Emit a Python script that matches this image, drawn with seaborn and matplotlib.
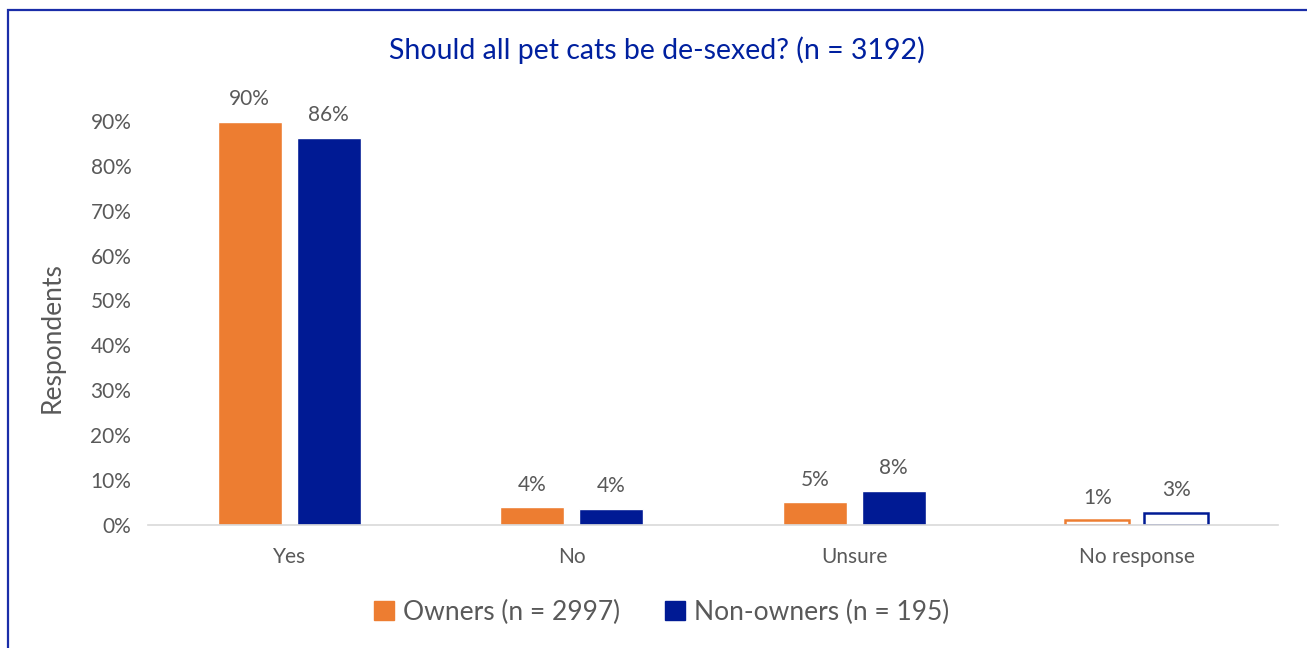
import pandas as pd
import matplotlib.pyplot as plt
import seaborn as sns
from matplotlib.patches import Rectangle

# Datos
categorias = ['Yes', 'No', 'Unsure', 'No response']
grupos = ['Owners (n = 2997)', 'Non-owners (n = 195)']
owners = [89.8, 3.9, 5.1, 1.1]
non_owners = [86.2, 3.6, 7.6, 2.7]
ticks_y = [0, 10, 20, 30, 40, 50, 60, 70, 80, 90]

naranja = '#ED7D31'
azul = '#001A94'
gris = '#595959'

df = pd.DataFrame({
    'Respuesta': categorias * 2,
    'Grupo': [grupos[0]] * len(categorias) + [grupos[1]] * len(categorias),
    'Porcentaje': owners + non_owners,
})

sns.set_style('white')
plt.rcParams['font.family'] = ['Lato', 'DejaVu Sans']

fig = plt.figure(figsize=(13.07, 6.48), dpi=100)
ax = fig.add_axes([148 / 1307, 123 / 648, 1130 / 1307, 449 / 648])

sns.barplot(data=df, x='Respuesta', y='Porcentaje', hue='Grupo',
            palette=[naranja, azul], width=0.56, gap=0.19, saturation=1,
            errorbar=None, ax=ax, legend=False)

# "No response" con barras huecas
for cont, color in zip(ax.containers, [naranja, azul]):
    barra = cont.patches[-1]
    barra.set_facecolor('white')
    barra.set_edgecolor(color)
    barra.set_linewidth(1.8)
    ax.bar_label(cont, labels=[f'{v:.0f}%' for v in cont.datavalues],
                 padding=9, fontsize=15, color=gris)

ax.set_ylim(0, 100)
ax.set_yticks(ticks_y)
ax.set_yticklabels([f'{t}%' for t in ticks_y])
ax.set_xlim(-0.5, 3.5)
ax.tick_params(axis='both', labelsize=15, colors=gris, length=0)
ax.tick_params(axis='x', pad=16)
ax.tick_params(axis='y', pad=12)
ax.set_xlabel('')
ax.set_ylabel('')
sns.despine(ax=ax, left=True)
ax.spines['bottom'].set_color('#D9D9D9')
ax.spines['bottom'].set_linewidth(1.2)

fig.text(52 / 1307, 1 - 338 / 648, 'Respondents', rotation=90,
         ha='center', va='center', fontsize=19, color=gris)
fig.text(657 / 1307, 1 - 50 / 648, 'Should all pet cats be de-sexed? (n = 3192)',
         ha='center', va='center', fontsize=20.5, color='#00209F')

handles = [Rectangle((0, 0), 1, 1, color=naranja), Rectangle((0, 0), 1, 1, color=azul)]
fig.legend(handles, grupos, loc='center', bbox_to_anchor=(662 / 1307, 1 - 612 / 648),
           ncol=2, frameon=False, fontsize=19, handlelength=0.75, handleheight=0.75,
           handletextpad=0.35, columnspacing=1.7, labelcolor=gris)

# Marco azul de la figura
fig.patches.append(Rectangle((7.5 / 1307, -0.1), 1.2, 1.1 - 10.5 / 648,
                             transform=fig.transFigure, fill=False,
                             edgecolor='#1A2DA8', linewidth=1.6, zorder=10))

fig.savefig('out.png', dpi=100)
